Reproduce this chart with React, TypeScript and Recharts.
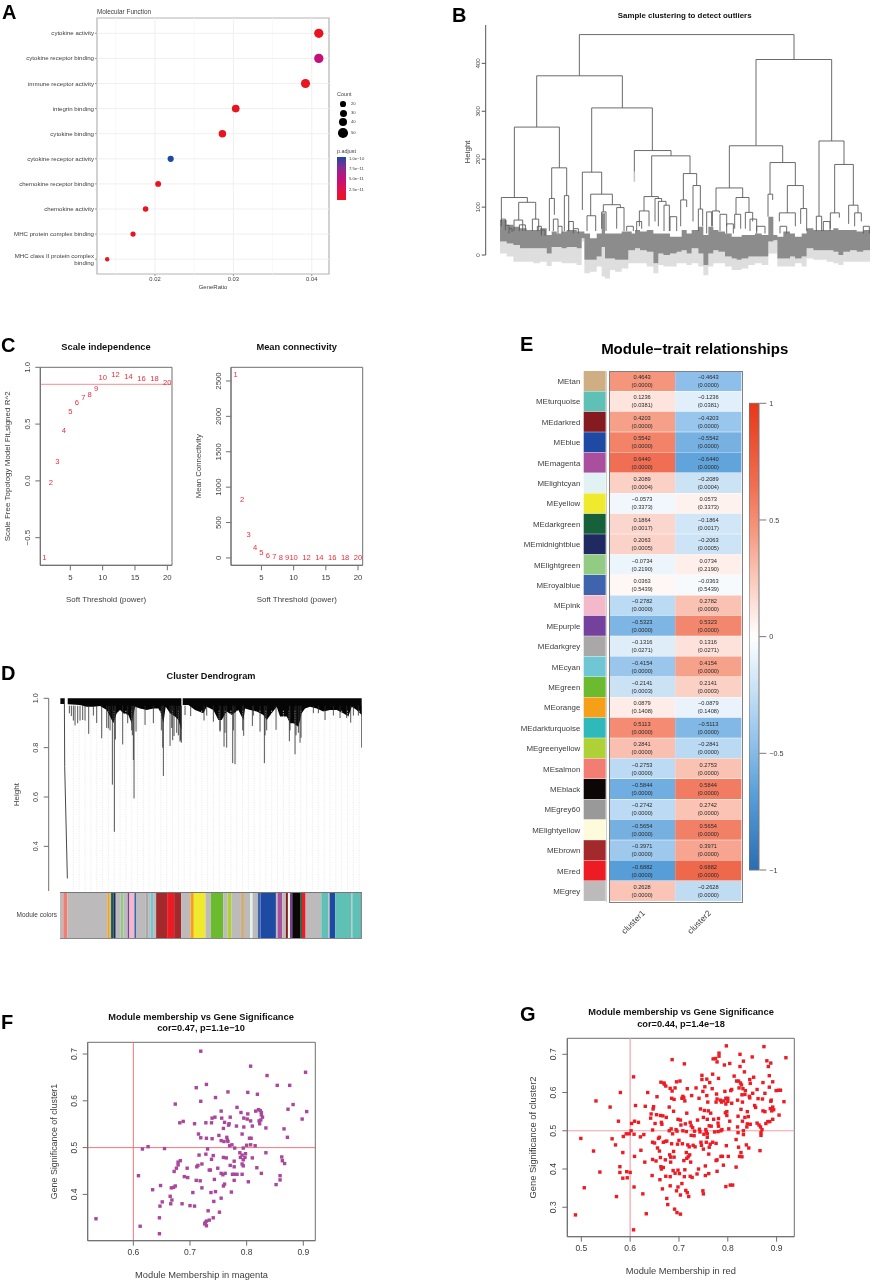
import React from 'react';
import {
  ScatterChart, Scatter, XAxis, YAxis, ZAxis, ReferenceLine, ReferenceArea, Cell,
  ComposedChart, Line, Area, BarChart, Bar, LabelList,
} from 'recharts';

const FONT = '"Liberation Sans", Arial, sans-serif';
const AXIS = '#6f6f6f';
const TXT = '#3c3c3c';

/* ---------- A ---------- */
const mfTerms = ['cytokine activity', 'cytokine receptor binding', 'immune receptor activity', 'integrin binding', 'cytokine binding', 'cytokine receptor activity', 'chemokine receptor binding', 'chemokine activity', 'MHC protein complex binding', 'MHC class II protein complex|binding'];
const mfRatio = [0.0409, 0.0409, 0.0392, 0.0303, 0.0286, 0.0220, 0.0204, 0.0188, 0.0172, 0.0139];
const mfCount = [53, 53, 51, 39, 37, 28, 26, 24, 22, 18];
const mfColor = ['#e8141f', '#c2127a', '#e8141f', '#e8141f', '#e8141f', '#1d4aa0', '#e8141f', '#e8141f', '#e8141f', '#e8141f'];
const mfTicks = [0.02, 0.03, 0.04];
const mfMinor = [0.015, 0.025, 0.035];
const countLegend = [20, 30, 40, 50];
const padjLegend = ['1.0e\u221210', '7.5e\u221211', '5.0e\u221211', '2.5e\u221211'];

/* ---------- B ---------- */
// [left x, right x, merge height, left bottom, right bottom]
const sampleMerges = [
  [418, 1062, 460, 374, 408], [948, 1175, 408, 228, 238], [290, 547, 374, 267, 307], [223, 358, 267, 120, 182],
  [455, 637, 307, 173, 218], [184, 262, 120, 70, 110], [236, 287, 110, 73, 75], [222, 248, 73, 50, 50], [277, 296, 75, 50, 50],
  [335, 380, 182, 118, 124], [328, 343, 118, 50, 84], [373, 386, 124, 50, 50], [427, 485, 173, 94, 127], [452, 517, 127, 82, 105],
  [441, 467, 82, 50, 50], [490, 541, 105, 90, 99], [485, 498, 90, 55, 50], [530, 552, 99, 55, 50], [583, 693, 218, 174, 207],
  [635, 750, 207, 122, 170], [612, 655, 122, 92, 118], [598, 627, 92, 60, 60], [645, 665, 118, 70, 112], [655, 678, 112, 60, 104],
  [672, 688, 104, 50, 50], [730, 770, 170, 115, 145], [722, 740, 115, 60, 100], [759, 781, 145, 70, 96], [775, 788, 96, 50, 60],
  [868, 1028, 228, 140, 193], [828, 908, 140, 92, 120], [817, 838, 92, 60, 88], [888, 927, 120, 85, 89], [884, 902, 85, 55, 55],
  [916, 938, 89, 55, 70], [990, 1066, 193, 127, 145], [984, 998, 127, 80, 115], [1042, 1090, 145, 88, 97], [1018, 1066, 88, 70, 60],
  [1082, 1100, 97, 65, 50], [1137, 1212, 238, 81, 189], [1129, 1145, 81, 50, 50], [1184, 1240, 189, 88, 104], [1171, 1198, 88, 55, 78],
  [1226, 1254, 104, 65, 88], [1244, 1264, 88, 60, 70], [184, 196, 75, 60, 62], [196, 207, 62, 52, 55], [207, 216, 55, 45, 48],
  [238, 256, 63, 50, 50], [292, 304, 60, 50, 45], [304, 315, 52, 40, 40], [340, 354, 75, 50, 60], [354, 366, 60, 45, 45],
  [386, 400, 70, 50, 55], [400, 415, 55, 45, 45], [690, 710, 80, 50, 50], [840, 860, 85, 50, 60], [860, 880, 65, 45, 45],
  [930, 950, 75, 50, 50], [950, 975, 60, 45, 45], [1020, 1040, 60, 45, 45], [1150, 1170, 70, 50, 50], [1270, 1288, 60, 45, 45],
  [560, 580, 60, 50, 50], [590, 605, 70, 50, 55], [800, 815, 90, 45, 60],
];
const leafX = [180, 200, 220, 240, 260, 280, 300, 320, 335, 350, 365, 380, 395, 410, 425, 433, 450, 470, 485, 495, 510, 525, 545, 565, 575, 585, 600, 620, 640, 655, 670, 690, 710, 725, 740, 755, 775, 790, 805, 820, 835, 855, 875, 890, 905, 925, 945, 965, 985, 1000, 1012, 1030, 1050, 1065, 1085, 1100, 1120, 1140, 1160, 1180, 1195, 1210, 1230, 1250, 1270, 1290];
const leafTop = [73, 63, 59, 56, 52, 52, 56, 42, 49, 45, 49, 52, 52, 49, 49, 45, 35, 45, 87, 45, 45, 45, 49, 49, 45, 52, 49, 52, 45, 45, 45, 38, 38, 52, 45, 52, 59, 42, 59, 52, 49, 45, 38, 38, 42, 42, 45, 42, 80, 42, 38, 49, 45, 38, 45, 56, 52, 52, 52, 56, 52, 52, 52, 49, 52, 49];
const leafBottom = [28, 24, 21, 14, 14, 14, 14, 3, 17, 17, 14, 17, 17, 14, 35, -10, -10, -3, 17, -7, -7, -10, -10, 10, 10, 14, 10, 7, -17, 3, 0, 3, 7, 10, 3, 14, 3, -21, 3, 10, 7, -3, -7, -10, -7, -3, -3, -3, 28, 31, -7, -7, -3, -7, -3, 14, 10, 10, 10, 7, 0, 7, 10, 7, 10, 10];
const leafLabel = [3, -3, -14, -14, -14, -17, -14, -23, -14, -14, -17, -17, -17, -21, 28, -38, -35, -24, -45, -49, -31, -35, -28, -17, -17, -17, -17, -24, -38, -21, -24, -24, -17, -17, -21, -17, -24, -42, -24, -17, -17, -24, -31, -31, -28, -21, -17, -21, 3, 3, -24, -24, -24, -17, -24, -7, -10, -10, -14, -17, -21, -14, -14, -14, -14, -14];
const stubX = [583];
const sampleTicks = [0, 100, 200, 300, 400];

/* ---------- C ---------- */
const powers = [1, 2, 3, 4, 5, 6, 7, 8, 9, 10, 12, 14, 16, 18, 20];
const sftFit = [-0.672, -0.015, 0.167, 0.445, 0.614, 0.69, 0.737, 0.763, 0.813, 0.91, 0.936, 0.915, 0.898, 0.898, 0.868];
const meanK = [2594, 829, 325, 146, 71, 33, 19, 10, 5, 3, 1, 1, 1, 1, 1];

/* ---------- D ---------- */
const fringeX = [181, 193, 194, 203, 240, 260, 280, 300, 320, 330, 340, 350, 360, 370, 385, 395, 405, 420, 440, 460, 475, 483, 490, 497, 510, 525, 535, 544, 545, 548, 565, 585, 610, 620, 640, 655, 665, 680, 695, 715, 730, 735, 750, 770, 790, 800, 815, 830, 840, 860, 870, 880, 895, 905, 915, 930, 950, 970, 990, 1010, 1030, 1045, 1055, 1070, 1085];
const fringeLow = [0.977, 0.977, null, 0.976, 0.973, 0.966, 0.966, 0.969, 0.953, 0.926, 0.899, 0.939, 0.953, 0.939, 0.932, 0.899, 0.966, 0.959, 0.953, 0.959, 0.959, 0.939, 0.899, 0.966, 0.939, 0.926, 0.912, 0.872, null, 0.973, 0.973, 0.953, 0.939, 0.966, 0.953, 0.912, 0.912, 0.946, 0.932, 0.953, 0.912, 0.959, 0.953, 0.946, 0.932, 0.912, 0.939, 0.966, 0.926, 0.926, 0.899, 0.899, 0.885, 0.939, 0.959, 0.966, 0.959, 0.946, 0.953, 0.953, 0.939, 0.926, 0.966, 0.953, 0.932];
const spikeX = [208, 214, 233, 248, 266, 305, 325, 337, 343, 346, 368, 383, 402, 408, 435, 460, 490, 510, 522, 540, 555, 572, 640, 660, 672, 680, 698, 705, 731, 757, 780, 793, 828, 868, 885, 900, 975, 1052, 1085, 320, 330, 395, 400, 397, 484, 488, 515, 518, 530, 535, 541, 544, 660, 675, 700, 728, 795, 800, 870, 888, 895, 903, 612, 620, 760, 1000, 1020, 1040, 1060, 1075, 955, 940, 290, 280, 255, 240, 220, 225];
const spikeLow = [0.939, 0.928, 0.899, 0.912, 0.856, 0.838, 0.878, 0.65, 0.459, 0.833, 0.813, 0.899, 0.594, 0.865, 0.892, 0.899, 0.685, 0.807, 0.847, 0.824, 0.932, 0.928, 0.905, 0.865, 0.804, 0.8, 0.737, 0.733, 0.848, 0.888, 0.865, 0.737, 0.872, 0.826, 0.773, 0.82, 0.912, 0.901, 0.8, 0.88, 0.87, 0.87, 0.75, 0.85, 0.87, 0.8, 0.88, 0.83, 0.86, 0.85, 0.83, 0.82, 0.87, 0.86, 0.87, 0.87, 0.85, 0.87, 0.87, 0.85, 0.86, 0.84, 0.91, 0.93, 0.93, 0.93, 0.92, 0.92, 0.93, 0.93, 0.94, 0.94, 0.9, 0.93, 0.91, 0.91, 0.91, 0.89];
const tailX = [193, 194, 202];
const tailH = [1, 0.723, 0.27];
const heightTicks = [0.4, 0.6, 0.8, 1.0];
const stripSizes = [10, 12, 120, 7, 4, 7, 7, 15, 8, 13, 5, 15, 6, 27, 8, 7, 8, 9, 33, 21, 21, 28, 10, 35, 16, 37, 13, 12, 28, 12, 16, 7, 16, 8, 46, 5, 14, 11, 6, 6, 7, 25, 4, 11, 47, 21, 4, 17, 48, 3, 25, 3];
const G0 = '#bcbaba', OR = '#f6a01a', BR = '#a32a2c', RD = '#ed1c24', TQ = '#5fc0b5', BL = '#1e4aa3', RB = '#3f63ad', PU = '#74429c', DG = '#17613a';
const stripColors = [G0, '#f27d72', G0, OR, G0, DG, '#1f2a60', G0, '#93cb84', G0, PU, '#f4b8cb', RB, G0, '#a9a7a8', G0, '#6fc7d6', G0, BR, RD, BR, G0, OR, '#f0ea2f', G0, '#6cba2e', G0, '#add136', G0, '#cfae84', G0, '#e1f2f3', G0, RB, BL, G0, '#a94f9e', G0, '#851a20', '#fdfbdc', PU, '#0c0606', DG, RD, G0, TQ, G0, BL, TQ, G0, TQ, '#3d5560'];

/* ---------- E ---------- */
const modules = ['MEtan', 'MEturquoise', 'MEdarkred', 'MEblue', 'MEmagenta', 'MElightcyan', 'MEyellow', 'MEdarkgreen', 'MEmidnightblue', 'MElightgreen', 'MEroyalblue', 'MEpink', 'MEpurple', 'MEdarkgrey', 'MEcyan', 'MEgreen', 'MEorange', 'MEdarkturquoise', 'MEgreenyellow', 'MEsalmon', 'MEblack', 'MEgrey60', 'MElightyellow', 'MEbrown', 'MEred', 'MEgrey'];
const moduleColors = ['#cfae84', '#5fc0b5', '#851a20', '#1e4aa3', '#a94f9e', '#e1f2f3', '#f0ea2f', '#17613a', '#1f2a60', '#93cb84', '#3f63ad', '#f4b8cb', '#74429c', '#a9a7a8', '#6fc7d6', '#6cba2e', '#f6a01a', '#2fb9bb', '#add136', '#f27d72', '#0c0606', '#999999', '#fdfbdc', '#a32a2c', '#ed1c24', '#bcbaba'];
const corCluster1 = [0.4643, 0.1236, 0.4203, 0.5542, 0.6440, 0.2089, -0.0573, 0.1864, 0.2063, -0.0734, 0.0363, -0.2782, -0.5323, -0.1316, -0.4154, -0.2141, 0.0879, 0.5113, 0.2841, -0.2753, -0.5844, -0.2742, -0.5654, -0.3971, -0.6882, 0.2628];
const corCluster2 = [-0.4643, -0.1236, -0.4203, -0.5542, -0.6440, -0.2089, 0.0573, -0.1864, -0.2063, 0.0734, -0.0363, 0.2782, 0.5323, 0.1316, 0.4154, 0.2141, -0.0879, -0.5113, -0.2841, 0.2753, 0.5844, 0.2742, 0.5654, 0.3971, 0.6882, -0.2628];
const pValues = [0, 0.0381, 0, 0, 0, 0.0004, 0.3373, 0.0017, 0.0005, 0.2190, 0.5439, 0, 0, 0.0271, 0, 0.0003, 0.1408, 0, 0, 0, 0, 0, 0, 0, 0, 0];
const scaleTicks = [-1, -0.5, 0, 0.5, 1];
const colorStops = [
  [-1, [42, 109, 179]], [-0.68, [88, 158, 216]], [-0.46, [143, 192, 234]], [-0.27, [189, 219, 243]], [0, [255, 255, 255]],
  [0.26, [250, 198, 184]], [0.46, [245, 150, 125]], [0.64, [240, 112, 85]], [0.69, [238, 105, 75]], [1, [232, 55, 25]],
];
const colorOf = (v) => {
  for (let i = 1; i < colorStops.length; i++) {
    const [a, ca] = colorStops[i - 1]; const [b, cb] = colorStops[i];
    if (v <= b) {
      const t = (v - a) / (b - a);
      return `rgb(${ca.map((c, k) => Math.round(c + (cb[k] - c) * t)).join(',')})`;
    }
  }
  return 'rgb(232,55,25)';
};
const signed = (v, d) => (v < 0 ? '\u2212' : '') + Math.abs(v).toFixed(d);

/* ---------- F ---------- */
const magentaPts = [[.534,.348],[.612,.332],[.646,.316],[.646,.350],[.647,.375],[.651,.384],[.634,.410],[.609,.440],[.616,.497],[.626,.502],[.655,.498],[.648,.419],[.665,.396],[.668,.388],[.666,.380],[.667,.414],[.671,.415],[.674,.418],[.686,.380],[.700,.376],[.708,.375],[.705,.404],[.690,.438],[.696,.436],[.695,.456],[.672,.449],[.676,.456],[.679,.463],[.679,.469],[.683,.472],[.711,.430],[.718,.429],[.721,.414],[.712,.459],[.714,.462],[.721,.465],[.716,.484],[.728,.486],[.731,.497],[.674,.593],[.682,.553],[.688,.556],[.708,.551],[.715,.529],[.719,.521],[.729,.520],[.739,.519],[.728,.553],[.738,.553],[.739,.563],[.744,.565],[.719,.706],[.711,.628],[.729,.635],[.719,.599],[.745,.607],[.767,.619],[.807,.674],[.836,.654],[.854,.633],[.876,.633],[.904,.661],[.802,.618],[.819,.614],[.755,.578],[.783,.586],[.756,.563],[.761,.554],[.759,.541],[.769,.551],[.768,.548],[.771,.565],[.790,.575],[.802,.572],[.795,.563],[.801,.561],[.807,.557],[.782,.546],[.795,.544],[.810,.546],[.792,.529],[.751,.526],[.755,.515],[.760,.513],[.765,.522],[.766,.516],[.767,.513],[.805,.520],[.808,.520],[.770,.504],[.774,.506],[.779,.499],[.794,.499],[.800,.505],[.807,.506],[.815,.504],[.816,.578],[.821,.581],[.824,.579],[.826,.575],[.826,.570],[.828,.565],[.825,.559],[.822,.557],[.823,.551],[.834,.542],[.873,.582],[.882,.592],[.906,.577],[.898,.561],[.866,.540],[.872,.522],[.834,.489],[.862,.480],[.863,.472],[.867,.466],[.818,.457],[.810,.478],[.826,.445],[.859,.440],[.859,.431],[.852,.421],[.803,.427],[.792,.443],[.783,.443],[.778,.443],[.775,.443],[.778,.430],[.773,.405],[.761,.422],[.759,.418],[.755,.392],[.752,.362],[.742,.385],[.745,.406],[.737,.404],[.743,.432],[.732,.365],[.741,.350],[.734,.345],[.729,.343],[.726,.337],[.729,.333],[.727,.340],[.749,.456],[.755,.445],[.758,.442],[.762,.445],[.759,.479],[.764,.478],[.771,.462],[.778,.459],[.778,.471],[.738,.475],[.741,.483],[.736,.452],[.734,.452],[.788,.489],[.789,.479],[.792,.484],[.798,.487],[.797,.479],[.792,.465],[.794,.461],[.794,.474]];

/* ---------- G ---------- */
const redPts = [[.488,.280],[.499,.480],[.506,.351],[.525,.447],[.530,.578],[.538,.392],[.559,.562],[.563,.479],[.570,.463],[.572,.328],[.576,.525],[.580,.600],[.579,.406],[.579,.391],[.585,.443],[.586,.485],[.585,.376],[.592,.492],[.593,.393],[.594,.377],[.598,.492],[.600,.391],[.602,.500],[.603,.519],[.607,.641],[.608,.491],[.608,.353],[.609,.525],[.609,.433],[.611,.566],[.617,.522],[.621,.484],[.622,.449],[.626,.335],[.628,.490],[.630,.418],[.631,.564],[.633,.283],[.607,.241],[.636,.600],[.642,.533],[.643,.544],[.645,.383],[.646,.502],[.646,.470],[.646,.425],[.647,.557],[.648,.563],[.650,.468],[.651,.519],[.653,.421],[.654,.542],[.655,.589],[.656,.455],[.658,.480],[.660,.483],[.660,.447],[.661,.372],[.662,.540],[.662,.430],[.663,.406],[.664,.400],[.664,.522],[.665,.517],[.663,.627],[.666,.348],[.667,.539],[.668,.470],[.668,.404],[.669,.625],[.670,.622],[.672,.424],[.672,.472],[.673,.381],[.673,.617],[.674,.535],[.675,.323],[.675,.473],[.677,.307],[.680,.562],[.680,.500],[.682,.380],[.682,.356],[.681,.437],[.682,.611],[.683,.431],[.683,.418],[.684,.505],[.685,.466],[.685,.585],[.686,.686],[.686,.604],[.687,.492],[.688,.396],[.689,.551],[.689,.446],[.690,.582],[.690,.431],[.691,.295],[.692,.389],[.692,.612],[.694,.503],[.695,.628],[.695,.343],[.696,.499],[.696,.286],[.697,.465],[.698,.353],[.698,.397],[.698,.530],[.700,.475],[.701,.388],[.702,.630],[.703,.332],[.703,.282],[.703,.528],[.704,.515],[.706,.362],[.706,.585],[.707,.466],[.708,.500],[.708,.590],[.710,.422],[.710,.586],[.711,.675],[.711,.380],[.712,.398],[.712,.578],[.713,.518],[.714,.344],[.715,.443],[.715,.498],[.716,.546],[.716,.428],[.717,.338],[.717,.610],[.718,.463],[.719,.432],[.720,.328],[.721,.458],[.722,.437],[.723,.381],[.723,.522],[.724,.418],[.725,.513],[.725,.488],[.726,.592],[.727,.378],[.728,.508],[.729,.462],[.731,.487],[.732,.499],[.733,.458],[.735,.612],[.737,.387],[.738,.528],[.740,.400],[.741,.585],[.742,.504],[.743,.497],[.744,.557],[.745,.470],[.746,.462],[.747,.634],[.747,.645],[.749,.343],[.749,.603],[.750,.335],[.750,.452],[.750,.535],[.751,.491],[.752,.553],[.753,.615],[.754,.383],[.754,.408],[.755,.503],[.756,.497],[.756,.470],[.757,.635],[.757,.592],[.758,.530],[.758,.492],[.758,.483],[.759,.575],[.760,.552],[.761,.388],[.761,.439],[.762,.513],[.762,.457],[.763,.626],[.764,.465],[.765,.546],[.766,.512],[.768,.610],[.769,.648],[.769,.470],[.770,.688],[.771,.530],[.773,.497],[.775,.689],[.776,.422],[.776,.575],[.776,.467],[.777,.596],[.778,.583],[.778,.680],[.778,.424],[.778,.394],[.780,.520],[.780,.498],[.781,.637],[.781,.532],[.781,.512],[.782,.695],[.782,.703],[.785,.580],[.786,.433],[.786,.500],[.787,.575],[.788,.503],[.789,.433],[.791,.410],[.792,.578],[.793,.672],[.794,.603],[.795,.547],[.796,.354],[.796,.585],[.796,.570],[.797,.722],[.797,.461],[.798,.540],[.798,.550],[.800,.577],[.800,.585],[.801,.433],[.802,.505],[.804,.676],[.804,.525],[.805,.358],[.806,.605],[.808,.572],[.808,.608],[.810,.358],[.813,.643],[.817,.405],[.817,.477],[.818,.630],[.820,.580],[.820,.510],[.821,.538],[.821,.495],[.822,.457],[.822,.630],[.823,.612],[.824,.433],[.825,.700],[.825,.668],[.826,.625],[.827,.556],[.827,.443],[.828,.620],[.829,.432],[.829,.594],[.830,.575],[.830,.525],[.831,.610],[.832,.682],[.832,.500],[.832,.490],[.834,.654],[.835,.535],[.835,.595],[.836,.605],[.838,.463],[.839,.510],[.840,.518],[.840,.550],[.842,.537],[.843,.455],[.844,.590],[.845,.634],[.845,.586],[.846,.624],[.846,.517],[.850,.693],[.851,.598],[.853,.640],[.855,.566],[.857,.561],[.860,.608],[.860,.520],[.862,.584],[.864,.515],[.866,.448],[.867,.510],[.868,.488],[.868,.495],[.870,.503],[.871,.583],[.872,.626],[.872,.552],[.874,.720],[.876,.550],[.876,.598],[.878,.519],[.880,.683],[.882,.524],[.883,.668],[.885,.644],[.885,.614],[.886,.524],[.887,.558],[.888,.677],[.888,.577],[.889,.580],[.890,.552],[.892,.530],[.892,.628],[.892,.562],[.894,.555],[.899,.605],[.904,.606],[.905,.541],[.908,.606],[.915,.576],[.919,.691]];

/* ---------- helpers ---------- */
const zip = (xs, ys, kx, ky) => xs.map((x, i) => ({ [kx]: x, [ky]: ys[i] }));
const pointsOf = (pts) => pts.map(([x, y]) => ({ x, y }));

const abs = (b) => ({ position: 'absolute', left: b.L, top: b.T, width: b.W, height: b.H });
const chartProps = (b) => ({
  width: b.W, height: b.H,
  margin: { top: b.py - b.T, right: b.L + b.W - b.px - b.pw, bottom: 0, left: 0 },
});
const yW = (b) => b.px - b.L;
const xH = (b) => b.T + b.H - b.py - b.ph;

const Txt = ({ x, y, size, bold, anchor = 'c', color = '#111', children }) => (
  <div style={{
    position: 'absolute', left: x, top: y, fontSize: size, fontWeight: bold ? 700 : 400, color,
    transform: anchor === 'c' ? 'translate(-50%,-50%)' : 'translate(0,-50%)', whiteSpace: 'nowrap', lineHeight: 1,
  }}>{children}</div>
);

const rotTick = (p, size, gap, dec) => {
  const tx = p.x - gap;
  return (
    <text x={tx} y={p.y} transform={`rotate(-90 ${tx} ${p.y})`} textAnchor="middle" fontSize={size} fill={TXT} fontFamily={FONT}>
      {dec === undefined ? String(p.payload.value) : signed(p.payload.value, dec)}
    </text>
  );
};

const numberShape = (p) => (
  <text x={p.cx} y={p.cy} textAnchor="middle" dominantBaseline="central" fontSize={7.6} fill="#ee2b3a" fontFamily={FONT}>{p.payload.power}</text>
);

/* ---------- panels ---------- */
function PanelA() {
  const b = { L: 0, T: 10, W: 335, H: 281, px: 97, py: 18, pw: 232, ph: 256 };
  const data = mfTerms.map((t, i) => ({ rank: i + 1, term: t, ratio: mfRatio[i], count: mfCount[i] }));
  const xd = [0.0126, 0.0422];
  const yd = [0.39, 10.59];
  return (
    <div style={abs(b)}>
      <ScatterChart {...chartProps(b)}>
        <XAxis type="number" dataKey="ratio" domain={xd} ticks={mfTicks} interval={0} height={xH(b)} tickSize={2} tickMargin={1}
          tickFormatter={(v) => v.toFixed(2)} tick={{ fontSize: 5.8, fill: TXT }} axisLine={false} tickLine={{ stroke: '#999' }}
          label={{ value: 'GeneRatio', position: 'insideBottom', offset: 2, fontSize: 6, fill: TXT }} />
        <YAxis type="number" dataKey="rank" reversed domain={yd} ticks={data.map((d) => d.rank)} interval={0} width={yW(b)} axisLine={false}
          tickSize={2} tickMargin={1} tickLine={{ stroke: '#999' }}
          tick={(p) => {
            const lines = mfTerms[p.payload.value - 1].split('|');
            return (
              <text x={p.x} y={p.y + 2} textAnchor="end" fontSize={6.1} fill={TXT} fontFamily={FONT}>
                {lines.map((l, i) => <tspan key={i} x={p.x} dy={i === 0 ? (lines.length > 1 ? -3 : 0) : 6.8}>{l}</tspan>)}
              </text>
            );
          }} />
        <ZAxis type="number" dataKey="count" domain={[18, 53]} range={[15, 68]} />
        {mfMinor.map((v) => <ReferenceLine key={v} x={v} stroke="#f5f5f5" strokeWidth={0.7} />)}
        {mfTicks.map((v) => <ReferenceLine key={v} x={v} stroke="#efefef" />)}
        {data.map((d) => <ReferenceLine key={d.rank} y={d.rank} stroke="#efefef" />)}
        <ReferenceArea x1={xd[0]} x2={xd[1]} y1={yd[0]} y2={yd[1]} fill="none" stroke="#b4b4b4" strokeWidth={1.2} />
        <Scatter data={data} isAnimationActive={false}>
          {data.map((d, i) => <Cell key={d.term} fill={mfColor[i]} />)}
        </Scatter>
      </ScatterChart>
    </div>
  );
}

function LegendA() {
  const ys = [104, 113, 122, 133];
  const ds = [5.7, 7, 8.3, 9.7];
  const py = [158.7, 169, 179.3, 189.7];
  return (
    <>
      <Txt x={337} y={95} size={5.4} anchor="l" color={TXT}>Count</Txt>
      {countLegend.map((c, i) => (
        <React.Fragment key={c}>
          <div style={{ position: 'absolute', left: 343.3 - ds[i] / 2, top: ys[i] - ds[i] / 2, width: ds[i], height: ds[i], borderRadius: '50%', background: '#000' }} />
          <Txt x={351} y={ys[i]} size={4.2} anchor="l" color={TXT}>{c}</Txt>
        </React.Fragment>
      ))}
      <Txt x={337} y={152} size={5.4} anchor="l" color={TXT}>p.adjust</Txt>
      <div style={{ position: 'absolute', left: 337.3, top: 157, width: 8.4, height: 43, background: 'linear-gradient(#1d4aa0, #8a2a90 25%, #c2127a 50%, #e0124e 75%, #ec1320)' }} />
      {padjLegend.map((t, i) => <Txt key={t} x={349} y={py[i]} size={4.2} anchor="l" color={TXT}>{t}</Txt>)}
    </>
  );
}

function PanelB() {
  const b = { L: 440, T: 0, W: 432, H: 279, px: 485.7, py: 25, pw: 386.3, ph: 254 };
  const treeRows = sampleMerges.flatMap(([xl, xr, h, bl, br]) => [
    { x: xl, y: bl }, { x: xl, y: h }, { x: xr, y: h }, { x: xr, y: br }, { x: xr, y: null },
  ]);
  const leafBand = leafX.map((x, i) => ({ x, band: [leafBottom[i], leafTop[i]] }));
  const labelBand = leafX.map((x, i) => ({ x, band: [leafLabel[i], leafBottom[i]] }));
  const stubRows = stubX.flatMap((x) => [{ x, y: 174 }, { x, y: 153 }]);
  return (
    <div style={abs(b)}>
      <ComposedChart {...chartProps(b)}>
        <XAxis type="number" dataKey="x" domain={[137, 1296]} hide />
        <YAxis type="number" domain={[-50, 480]} ticks={sampleTicks} interval={0} width={yW(b)} axisLine={false} tickSize={4} tickMargin={0}
          tickLine={{ stroke: '#555' }} tick={(p) => rotTick(p, 6.2, 1.5)}
          label={{ value: 'Height', angle: -90, position: 'insideLeft', offset: 27, fontSize: 8, fill: TXT, style: { textAnchor: 'middle' } }} />
        <ReferenceLine segment={[{ x: 137, y: 0 }, { x: 137, y: 480 }]} stroke="#555" ifOverflow="visible" />
        <Area data={labelBand} dataKey="band" type="stepAfter" stroke="none" fill="#dedede" fillOpacity={1} isAnimationActive={false} dot={false} activeDot={false} />
        <Area data={leafBand} dataKey="band" type="stepAfter" stroke="none" fill="#8c8c8c" fillOpacity={1} isAnimationActive={false} dot={false} activeDot={false} />
        <Line data={stubRows} dataKey="y" stroke="#c4c4c4" strokeWidth={1.5} dot={false} activeDot={false} isAnimationActive={false} />
        <Line data={treeRows} dataKey="y" stroke="#5a5a5a" strokeWidth={0.9} dot={false} activeDot={false} connectNulls={false} isAnimationActive={false} />
      </ComposedChart>
    </div>
  );
}

function PanelC() {
  const b1 = { L: 1, T: 330, W: 176, H: 276, px: 40.3, py: 367.3, pw: 131.7, ph: 198 };
  const b2 = { L: 192, T: 330, W: 176, H: 276, px: 231, py: 367.3, pw: 131.7, ph: 198 };
  const d1 = zip(powers, sftFit, 'power', 'v');
  const d2 = zip(powers, meanK, 'power', 'v');
  const xa = { type: 'number', dataKey: 'power', ticks: [5, 10, 15, 20], interval: 0, tickSize: 5, tickMargin: 4, tick: { fontSize: 7.8, fill: TXT }, tickLine: { stroke: AXIS }, axisLine: { stroke: AXIS } };
  const lab = { value: 'Soft Threshold (power)', position: 'insideBottom', offset: 4, fontSize: 7.9, fill: TXT };
  return (
    <>
      <div style={abs(b1)}>
        <ScatterChart {...chartProps(b1)}>
          <XAxis {...xa} domain={[0.36, 20.72]} height={xH(b1)} label={lab} />
          <YAxis type="number" dataKey="v" domain={[-0.743, 1]} ticks={[-0.5, 0, 0.5, 1]} interval={0} width={yW(b1)} tickSize={5} tickMargin={0}
            tickLine={{ stroke: AXIS }} axisLine={{ stroke: AXIS }} tick={(p) => rotTick(p, 7.8, 5, 1)}
            label={{ value: 'Scale Free Topology Model Fit,signed R^2', angle: -90, position: 'insideLeft', offset: 6, fontSize: 8, fill: TXT, style: { textAnchor: 'middle' } }} />
          <ReferenceArea x1={0.36} x2={20.72} y1={-0.743} y2={1} fill="none" stroke={AXIS} />
          <ReferenceLine y={0.85} stroke="#f8a3a8" strokeWidth={1.4} />
          <Scatter data={d1} shape={numberShape} isAnimationActive={false} />
        </ScatterChart>
      </div>
      <div style={abs(b2)}>
        <ScatterChart {...chartProps(b2)}>
          <XAxis {...xa} domain={[0.27, 20.73]} height={xH(b2)} label={lab} />
          <YAxis type="number" dataKey="v" domain={[-104, 2693]} ticks={[0, 500, 1000, 1500, 2000, 2500]} interval={0} width={yW(b2)} tickSize={5} tickMargin={0}
            tickLine={{ stroke: AXIS }} axisLine={{ stroke: AXIS }} tick={(p) => rotTick(p, 7.8, 5)}
            label={{ value: 'Mean Connectivity', angle: -90, position: 'insideLeft', offset: 6, fontSize: 7.8, fill: TXT, style: { textAnchor: 'middle' } }} />
          <ReferenceArea x1={0.27} x2={20.73} y1={-104} y2={2693} fill="none" stroke={AXIS} />
          <Scatter data={d2} shape={numberShape} isAnimationActive={false} />
        </ScatterChart>
      </div>
    </>
  );
}

function PanelD() {
  const b = { L: 8, T: 690, W: 354, H: 201, px: 48.7, py: 698.3, pw: 313, ph: 192.7 };
  const fringe = fringeX.map((x, i) => ({ x, band: fringeLow[i] === null ? null : [fringeLow[i], 1] }));
  const spikes = spikeX.flatMap((x, i) => [{ x, y: 0.97 }, { x, y: spikeLow[i] }, { x, y: null }]);
  const tail = zip(tailX, tailH, 'x', 'y');
  const guides = Array.from({ length: 50 }, (_, i) => 220 + i * 17.5);
  const s = { L: 0, T: 892.7, W: 361.7, H: 45, px: 60, py: 892.7, pw: 301.7, ph: 45 };
  const stripRow = [stripSizes.reduce((acc, w, i) => ({ ...acc, [`s${i}`]: w }), { row: 'Module colors' })];
  return (
    <>
      <div style={abs(b)}>
        <ComposedChart {...chartProps(b)}>
          <XAxis type="number" dataKey="x" domain={[146, 1085]} hide />
          <YAxis type="number" domain={[0.219, 1]} ticks={heightTicks} interval={0} width={yW(b)} tickSize={5} tickMargin={0}
            tickLine={{ stroke: AXIS }} axisLine={{ stroke: AXIS }} tick={(p) => rotTick(p, 7.2, 6, 1)}
            label={{ value: 'Height', angle: -90, position: 'insideLeft', offset: 8, fontSize: 8, fill: TXT, style: { textAnchor: 'middle' } }} />
          {guides.map((x) => <ReferenceLine key={x} segment={[{ x, y: 0.225 }, { x, y: 0.95 }]} stroke="#e6e6e6" strokeDasharray="1.2 1.2" strokeWidth={0.8} />)}
          <Area data={fringe} dataKey="band" type="linear" stroke="none" fill="#050505" fillOpacity={1} connectNulls={false} isAnimationActive={false} dot={false} activeDot={false} />
          <Line data={spikes} dataKey="y" stroke="#2a2a2a" strokeWidth={0.8} dot={false} activeDot={false} connectNulls={false} isAnimationActive={false} />
          <Line data={tail} dataKey="y" stroke="#333" strokeWidth={0.9} dot={false} activeDot={false} isAnimationActive={false} />
        </ComposedChart>
      </div>
      <div style={abs(s)}>
        <BarChart {...chartProps(s)} layout="vertical" data={stripRow} barCategoryGap={0}>
          <XAxis type="number" domain={[0, 904]} hide />
          <YAxis type="category" dataKey="row" width={yW(s)} tickSize={0} tickMargin={3} axisLine={false} tickLine={false}
            tick={(p) => <text x={p.x} y={p.y + 2} textAnchor="end" fontSize={6.5} fill={TXT} fontFamily={FONT}>{p.payload.value}</text>} />
          {stripSizes.map((_, i) => <Bar key={i} dataKey={`s${i}`} stackId="strip" fill={stripColors[i]} isAnimationActive={false} />)}
        </BarChart>
      </div>
      <div style={{ position: 'absolute', left: 60, top: 892.2, width: 301.7, height: 45, borderTop: '1px solid #777', borderBottom: '1px solid #888' }} />
    </>
  );
}

function PanelE() {
  const rows = modules.map((m, i) => ({
    name: m, swatch: 1, unit1: 1, unit2: 1,
    cell1: `${signed(corCluster1[i], 4)}|(${pValues[i].toFixed(4)})`,
    cell2: `${signed(corCluster2[i], 4)}|(${pValues[i].toFixed(4)})`,
  }));
  const a = { L: 500, T: 371.3, W: 105.7, H: 530.4, px: 583.7, py: 371.3, pw: 22, ph: 530.4 };
  const h = { L: 609.3, T: 371.3, W: 132.4, H: 530.4, px: 609.3, py: 371.3, pw: 132.4, ph: 530.4 };
  const c = { L: 748.7, T: 396, W: 50, H: 482, px: 748.7, py: 403.3, pw: 10.3, ph: 466.7 };
  const cellText = (p) => {
    const [l1, l2] = String(p.value).split('|');
    const cx = p.x + p.width / 2; const cy = p.y + p.height / 2;
    return (
      <text textAnchor="middle" fontSize={5.7} fill="#2a2a2a" fontFamily={FONT}>
        <tspan x={cx} y={cy - 1.9}>{l1}</tspan>
        <tspan x={cx} y={cy + 6.1}>{l2}</tspan>
      </text>
    );
  };
  const scaleRow = [{ k: 'scale', span: [-1, 1] }];
  return (
    <>
      <div style={abs(a)}>
        <BarChart {...chartProps(a)} layout="vertical" data={rows} barCategoryGap={0}>
          <XAxis type="number" domain={[0, 1]} hide />
          <YAxis type="category" dataKey="name" interval={0} width={yW(a)} tickSize={0} tickMargin={3.4} axisLine={false} tickLine={false} tick={{ fontSize: 7.9, fill: TXT }} />
          <Bar dataKey="swatch" isAnimationActive={false}>
            {rows.map((r, i) => <Cell key={r.name} fill={moduleColors[i]} />)}
          </Bar>
        </BarChart>
      </div>
      <div style={abs(h)}>
        <BarChart {...chartProps(h)} layout="vertical" data={rows} barCategoryGap={0}>
          <XAxis type="number" domain={[0, 2]} hide />
          <YAxis type="category" dataKey="name" hide />
          <Bar dataKey="unit1" stackId="h" isAnimationActive={false}>
            {rows.map((r, i) => <Cell key={r.name} fill={colorOf(corCluster1[i])} />)}
            <LabelList dataKey="cell1" content={cellText} />
          </Bar>
          <Bar dataKey="unit2" stackId="h" isAnimationActive={false}>
            {rows.map((r, i) => <Cell key={r.name} fill={colorOf(corCluster2[i])} />)}
            <LabelList dataKey="cell2" content={cellText} />
          </Bar>
        </BarChart>
      </div>
      <div style={{ position: 'absolute', left: 608.8, top: 370.8, width: 132.4, height: 530.4, border: '1px solid #808080', boxSizing: 'content-box' }} />
      <div style={{ position: 'absolute', left: 605.7, top: 371.3, width: 1.2, height: 530.4, background: '#cfcfcf' }} />
      <div style={{ position: 'absolute', left: 633, top: 921.7, transform: 'translate(-50%,-50%) rotate(-45deg)', fontSize: 8.4, color: TXT }}>cluster1</div>
      <div style={{ position: 'absolute', left: 699, top: 921.7, transform: 'translate(-50%,-50%) rotate(-45deg)', fontSize: 8.4, color: TXT }}>cluster2</div>
      <div style={abs(c)}>
        <BarChart {...chartProps(c)} margin={{ top: c.py - c.T, right: 0, bottom: c.T + c.H - c.py - c.ph, left: 0 }} data={scaleRow} barCategoryGap={0}>
          <defs>
            <linearGradient id="cbGrad" x1="0" y1="0" x2="0" y2="1">
              {[...colorStops].reverse().map(([v, col]) => (
                <stop key={v} offset={`${((1 - v) / 2) * 100}%`} stopColor={`rgb(${col.join(',')})`} />
              ))}
            </linearGradient>
          </defs>
          <XAxis dataKey="k" hide />
          <YAxis orientation="right" type="number" domain={[-1, 1]} ticks={scaleTicks} interval={0} width={c.W - c.pw} tickSize={7} tickMargin={3}
            axisLine={false} tickLine={{ stroke: '#777' }} tickFormatter={(v) => (v < 0 ? `\u2212${Math.abs(v)}` : `${v}`)} tick={{ fontSize: 7.2, fill: TXT }} />
          <Bar dataKey="span" fill="url(#cbGrad)" stroke="#777" strokeWidth={1} isAnimationActive={false} />
        </BarChart>
      </div>
    </>
  );
}

const squareShape = (fill) => (p) => <rect x={p.cx - 1.7} y={p.cy - 1.7} width={3.4} height={3.4} fill={fill} />;

function MMPlot({ b, xd, yd, xt, yt, pts, color, xl, yl, ylSize, lineColor, lineW }) {
  return (
    <div style={abs(b)}>
      <ScatterChart {...chartProps(b)}>
        <XAxis type="number" dataKey="x" domain={xd} ticks={xt} interval={0} height={xH(b)} tickSize={5} tickMargin={3}
          tick={{ fontSize: 8.5, fill: TXT }} tickLine={{ stroke: AXIS }} axisLine={{ stroke: AXIS }} tickFormatter={(v) => v.toFixed(1)}
          label={{ value: xl, position: 'insideBottom', offset: 4, fontSize: 9.3, fill: TXT }} />
        <YAxis type="number" dataKey="y" domain={yd} ticks={yt} interval={0} width={yW(b)} tickSize={5} tickMargin={0}
          tickLine={{ stroke: AXIS }} axisLine={{ stroke: AXIS }} tick={(p) => rotTick(p, 8.5, 6, 1)}
          label={{ value: yl, angle: -90, position: 'insideLeft', offset: 6, fontSize: ylSize, fill: TXT, style: { textAnchor: 'middle' } }} />
        <ReferenceArea x1={xd[0]} x2={xd[1]} y1={yd[0]} y2={yd[1]} fill="none" stroke={AXIS} />
        <ReferenceLine x={0.6} stroke={lineColor} strokeWidth={lineW} />
        <ReferenceLine y={0.5} stroke={lineColor} strokeWidth={lineW} />
        <Scatter data={pointsOf(pts)} shape={squareShape(color)} isAnimationActive={false} />
      </ScatterChart>
    </div>
  );
}

export default function App() {
  return (
    <div style={{ position: 'absolute', left: 0, top: 0, width: 872, height: 1281, background: '#fff', overflow: 'hidden', fontFamily: FONT, filter: 'blur(0.3px)' }}>
      <Txt x={2} y={12} size={20} bold anchor="l" color="#000">A</Txt>
      <Txt x={452} y={15} size={20} bold anchor="l" color="#000">B</Txt>
      <Txt x={1} y={345} size={20} bold anchor="l" color="#000">C</Txt>
      <Txt x={1} y={673} size={20} bold anchor="l" color="#000">D</Txt>
      <Txt x={520} y={344} size={20} bold anchor="l" color="#000">E</Txt>
      <Txt x={1} y={1022} size={20} bold anchor="l" color="#000">F</Txt>
      <Txt x={520} y={1014} size={20} bold anchor="l" color="#000">G</Txt>

      <Txt x={97} y={12} size={6.4} anchor="l" color={TXT}>Molecular Function</Txt>
      <PanelA />
      <LegendA />

      <Txt x={684.7} y={16} size={7.9} bold>Sample clustering to detect outliers</Txt>
      <PanelB />

      <Txt x={106} y={347.7} size={9.3} bold>Scale independence</Txt>
      <Txt x={296.7} y={347.7} size={9.3} bold>Mean connectivity</Txt>
      <PanelC />

      <Txt x={211} y={676.7} size={9.2} bold>Cluster Dendrogram</Txt>
      <PanelD />

      <Txt x={694.7} y={348} size={15} bold color="#000">{'Module\u2212trait relationships'}</Txt>
      <PanelE />

      <Txt x={201} y={1017.7} size={9.25} bold>Module membership vs Gene Significance</Txt>
      <Txt x={201} y={1029.3} size={9.25} bold>{'cor=0.47, p=1.1e\u221210'}</Txt>
      <MMPlot b={{ L: 48, T: 1030, W: 271, H: 252, px: 87.7, py: 1042.3, pw: 227.6, ph: 198.4 }}
        xd={[0.5194, 0.9212]} yd={[0.3011, 0.725]} xt={[0.6, 0.7, 0.8, 0.9]} yt={[0.4, 0.5, 0.6, 0.7]}
        pts={magentaPts} color="#a9479c" xl="Module Membership in magenta" yl="Gene Significance of  cluster1" ylSize={8.9} lineColor="#f4666e" lineW={0.9} />

      <Txt x={681} y={1013.3} size={9.25} bold>Module membership vs Gene Significance</Txt>
      <Txt x={681} y={1025} size={9.25} bold>{'cor=0.44, p=1.4e\u221218'}</Txt>
      <MMPlot b={{ L: 527, T: 1030, W: 271, H: 248, px: 567.3, py: 1038.3, pw: 227, ph: 198.4 }}
        xd={[0.4713, 0.9362]} yd={[0.223, 0.7418]} xt={[0.5, 0.6, 0.7, 0.8, 0.9]} yt={[0.3, 0.4, 0.5, 0.6, 0.7]}
        pts={redPts} color="#ec1c24" xl="Module Membership in red" yl="Gene Significance of  cluster2" ylSize={9.4} lineColor="#f8a0a8" lineW={1.2} />
    </div>
  );
}
